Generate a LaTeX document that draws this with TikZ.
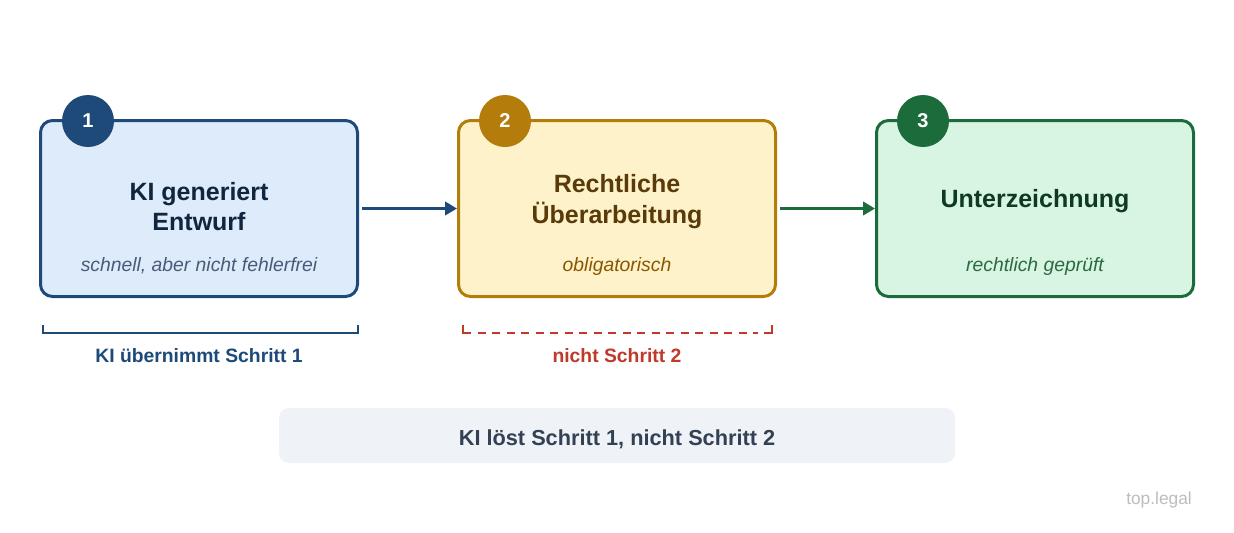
\documentclass[tikz,border=0pt]{standalone}
\usepackage{fontspec}
\setmainfont{Liberation Sans}
\usetikzlibrary{arrows.meta,calc,positioning}
\definecolor{kiblue}{HTML}{1E4A7A}
\definecolor{kibluefill}{HTML}{DDEBFB}
\definecolor{kibluetext}{HTML}{10263F}
\definecolor{kibluesub}{HTML}{4B5A78}
\definecolor{revgold}{HTML}{B47C0B}
\definecolor{revgoldfill}{HTML}{FEF2CB}
\definecolor{revgoldtext}{HTML}{5A3A08}
\definecolor{revgoldsub}{HTML}{8A5700}
\definecolor{signgreen}{HTML}{1C6B3A}
\definecolor{signgreenfill}{HTML}{D8F4E2}
\definecolor{signgreentext}{HTML}{0F3A21}
\definecolor{signgreensub}{HTML}{2B6B43}
\definecolor{warnred}{HTML}{C0392B}
\definecolor{notefill}{HTML}{EFF3F7}
\definecolor{notetext}{HTML}{334155}
\definecolor{brandgray}{HTML}{BDBDBD}

\tikzset{
  stepbox/.style={draw=#1,line width=2.25pt,rounded corners=9pt,
    minimum width=237.75pt,minimum height=132pt,inner sep=0pt},
  stepnum/.style={circle,fill=#1,text=white,minimum size=39pt,inner sep=0pt,
    font=\fontsize{15}{18}\selectfont\bfseries},
  steptitle/.style={anchor=base,font=\fontsize{18.75}{22.5}\selectfont\bfseries},
  stepsub/.style={anchor=base,font=\fontsize{14.5}{17}\selectfont\itshape},
  flow/.style={line width=2.25pt,-{Triangle[length=9pt,width=10pt]},shorten <=2.5pt},
  brace/.style={line width=1.5pt},
  bracelabel/.style={anchor=base,font=\fontsize{14.5}{17}\selectfont\bfseries},
}

\begin{document}
\begin{tikzpicture}[x=0.75pt,y=-0.75pt]

%% ── canvas ───────────────────────────────────────────────────────────────────
\fill[white] (0,0) rectangle (1234,532);
\useasboundingbox (0,0) rectangle (1234,532);

%% ── step boxes ───────────────────────────────────────────────────────────────
\node[stepbox=kiblue,fill=kibluefill]        (s1) at (199,208.5) {};
\node[stepbox=revgold,fill=revgoldfill]      (s2) at (617,208.5) {};
\node[stepbox=signgreen,fill=signgreenfill]  (s3) at (1035,208.5) {};

%% number badges on the top edge
\node[stepnum=kiblue]    (n1) at ($(s1.north west)+(49,2)$) {1};
\node[stepnum=revgold]   (n2) at ($(s2.north west)+(48,2)$) {2};
\node[stepnum=signgreen] (n3) at ($(s3.north west)+(48,2)$) {3};

%% ── box texts ────────────────────────────────────────────────────────────────
\node[steptitle,text=kibluetext] (t1a) at (199,200) {KI generiert};
\node[steptitle,text=kibluetext] (t1b) at (199,230) {Entwurf};
\node[stepsub,text=kibluesub]    (u1)  at (199,271) {schnell, aber nicht fehlerfrei};

\node[steptitle,text=revgoldtext] (t2a) at (617,192) {Rechtliche};
\node[steptitle,text=revgoldtext] (t2b) at (617,223) {Überarbeitung};
\node[stepsub,text=revgoldsub]    (u2)  at (617,271) {obligatorisch};

\node[steptitle,text=signgreentext] (t3) at (1035,207) {Unterzeichnung};
\node[stepsub,text=signgreensub]    (u3) at (1035,271) {rechtlich geprüft};

%% ── flow arrows ──────────────────────────────────────────────────────────────
\draw[flow,kiblue]    (s1) -- (s2);
\draw[flow,signgreen] (s2) -- (s3);

%% ── brackets under step 1 and step 2 ─────────────────────────────────────────
\draw[brace,kiblue]
  ($(s1.south west)+(4,27)$) -- ++(0,8) -| ($(s1.south east)+(-1,27)$);
%% dashed one: solid corner ticks, dashes in between
\draw[brace,warnred] ($(s2.south west)+(6,27)$) coordinate (d1) -- ++(0,8) -- ++(8,0);
\draw[brace,warnred] ($(s2.south east)+(-5,27)$) coordinate (d2) -- ++(0,8) -- ++(-8,0);
\draw[brace,warnred,dash pattern=on 6pt off 4.875pt]
  ($(d1)+(14.5,8)$) -- ($(d2)+(-14.5,8)$);

\node[bracelabel,text=kiblue]  (b1) at ($(s1.south)+(0,64)$) {KI übernimmt Schritt 1};
\node[bracelabel,text=warnred] (b2) at ($(s2.south)+(0,64)$) {nicht Schritt 2};

%% ── summary note ─────────────────────────────────────────────────────────────
\node[fill=notefill,rounded corners=7.5pt,minimum width=507pt,minimum height=41.25pt,
  text height=15.5pt,text depth=0pt,
  text=notetext,font=\fontsize{16.3}{19}\selectfont\bfseries]
  (note) at (617,435.5) {KI löst Schritt 1, nicht Schritt 2};

%% ── brand mark ───────────────────────────────────────────────────────────────
\node[text=brandgray,font=\fontsize{13}{15}\selectfont] (brand) at (1159,500) {top.legal};

\end{tikzpicture}
\end{document}
